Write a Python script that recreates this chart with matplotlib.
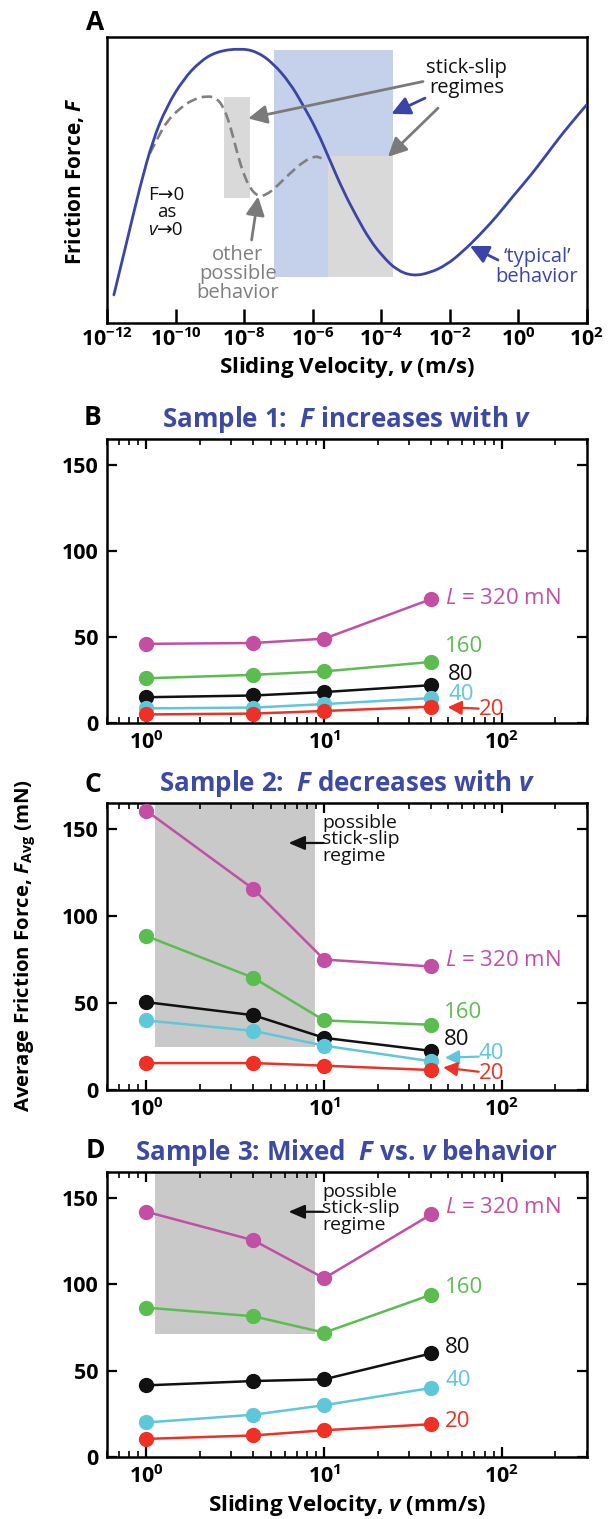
import numpy as np
import matplotlib
matplotlib.use("Agg")
import matplotlib.pyplot as plt
from matplotlib.path import Path
from matplotlib.patches import PathPatch
from matplotlib.ticker import LogLocator, NullFormatter, NullLocator

plt.rcParams['font.family'] = ['Open Sans', 'DejaVu Sans']
plt.rcParams['mathtext.fontset'] = 'custom'
plt.rcParams['mathtext.rm'] = 'Open Sans:bold'
plt.rcParams['mathtext.it'] = 'Open Sans:italic'
plt.rcParams['mathtext.bf'] = 'Open Sans:bold:italic'
plt.rcParams['axes.linewidth'] = 1.8

# ---------------- Panel A: schematic friction curve ----------------
# x values are log10 of the sliding velocity (m/s)
a_logv_typical = [-11.80, -11.43, -11.04, -10.66, -10.26, -9.78, -9.29, -8.80,
                  -8.12, -7.63, -7.16, -6.66, -6.28, -5.88, -5.50, -5.12, -4.72,
                  -4.33, -3.95, -3.55, -3.08, -2.58, -2.09, -1.62, -1.12, -0.63,
                  -0.16, 0.34, 0.82, 1.30, 2.00]
a_force_typical = [0.098, 0.280, 0.476, 0.640, 0.756, 0.850, 0.914, 0.949,
                   0.960, 0.949, 0.909, 0.839, 0.762, 0.675, 0.570, 0.465, 0.372,
                   0.290, 0.232, 0.185, 0.164, 0.175, 0.203, 0.249, 0.308, 0.372,
                   0.442, 0.512, 0.587, 0.664, 0.763]
a_logv_other = [-10.75, -10.50, -10.26, -9.87, -9.48, -9.09, -8.80, -8.61, -8.46,
                -8.32, -8.17, -8.02, -7.83, -7.59, -7.34, -7.05, -6.66, -6.27,
                -5.93, -5.74]
a_force_other = [0.593, 0.651, 0.704, 0.751, 0.782, 0.794, 0.786, 0.756, 0.710,
                 0.651, 0.581, 0.523, 0.471, 0.442, 0.448, 0.477, 0.523, 0.564,
                 0.584, 0.576]
a_decades = [-12, -10, -8, -6, -4, -2, 0, 2]

# ---------------- Panels B-D: measured average friction ----------------
velocity = [1, 4, 10, 40]
load_labels = ['$L$ = 320 mN', '160', '80', '40', '20']
load_colors = ['#c24fa4', '#5bbd50', '#111111', '#5ec8da', '#ee3124']

s1_320 = [46, 46.5, 49, 72]
s1_160 = [26, 28, 30, 35.5]
s1_80 = [15, 16, 18, 22]
s1_40 = [8.5, 9, 11, 14.5]
s1_20 = [5, 5.5, 7, 9.5]

s2_320 = [160.5, 115.5, 75, 71]
s2_160 = [88.5, 64.5, 40, 37.5]
s2_80 = [50.5, 43, 30, 22.5]
s2_40 = [40, 34, 25.5, 16.5]
s2_20 = [15.5, 15.5, 14, 11.5]

s3_320 = [142, 125.5, 103.5, 140.5]
s3_160 = [86.5, 81.5, 72, 94]
s3_80 = [41.5, 44, 45, 60]
s3_40 = [20, 24.5, 30, 40]
s3_20 = [10.5, 12.5, 15.5, 19]

title_blue = '#3c4aa3'
curve_blue = '#3b45a8'
grey_txt = '#7f7f7f'

fig = plt.figure(figsize=(6.08, 15.19), dpi=100)
axA = fig.add_axes([0.176, 0.7874, 0.789, 0.1883])
axB = fig.add_axes([0.176, 0.524, 0.789, 0.187])
axC = fig.add_axes([0.176, 0.2824, 0.789, 0.189])
axD = fig.add_axes([0.176, 0.0408, 0.789, 0.1876])


def smooth_curve(xs, ys):
    """Quadratic Bezier path passing through the midpoints of the given points."""
    pts = np.column_stack([xs, ys])
    verts = [pts[0]]
    codes = [Path.MOVETO]
    for i in range(1, len(pts) - 1):
        mid = (pts[i] + pts[i + 1]) / 2
        verts += [pts[i], mid]
        codes += [Path.CURVE3, Path.CURVE3]
    verts.append(pts[-1])
    codes.append(Path.LINETO)
    return Path(verts, codes)


# ---- panel A ----
ax = axA
ax.set_xlim(-12, 2)
ax.set_ylim(0, 1)
ax.fill_between([-7.13, -3.65], 0.162, 0.955, color='#c5d0ea', lw=0, zorder=0)
ax.fill_between([-5.56, -3.65], 0.162, 0.584, color='#d9d9d9', lw=0, zorder=0.5)
ax.fill_between([-8.59, -7.83], 0.436, 0.791, color='#d9d9d9', lw=0, zorder=0.5)
ax.add_patch(PathPatch(smooth_curve(a_logv_typical, a_force_typical), fill=False,
                       edgecolor=curve_blue, lw=2.0, zorder=3, capstyle='round'))
ax.add_patch(PathPatch(smooth_curve(a_logv_other, a_force_other), fill=False,
                       edgecolor='#808080', lw=1.9, ls=(0, (4, 2)), zorder=2))

arrow_kw = dict(arrowstyle='-|>,head_length=0.7,head_width=0.35', lw=2.0,
                shrinkA=0, shrinkB=0, mutation_scale=16)
ax.annotate('', xy=(-7.88, 0.715), xytext=(-2.78, 0.844),
            arrowprops=dict(color='#7a7a7a', **arrow_kw))
ax.annotate('', xy=(-3.70, 0.731), xytext=(-2.72, 0.786),
            arrowprops=dict(color=curve_blue, **arrow_kw))
ax.annotate('', xy=(-3.80, 0.581), xytext=(-2.34, 0.751),
            arrowprops=dict(color='#7a7a7a', **arrow_kw))
ax.annotate('', xy=(-7.59, 0.442), xytext=(-7.78, 0.290),
            arrowprops=dict(color='#7a7a7a', **arrow_kw))
ax.annotate('', xy=(-1.41, 0.269), xytext=(-0.59, 0.220),
            arrowprops=dict(color=curve_blue, **arrow_kw))

ax.text(-1.51, 0.858, 'stick-slip\nregimes', ha='center', va='center',
        fontsize=14.5, color='#111111', linespacing=1.0)
ax.text(0.55, 0.196, '\u2018typical\u2019\nbehavior', ha='center', va='center',
        fontsize=14.5, color=curve_blue, linespacing=0.95)
ax.text(-10.26, 0.448, 'F\u21920', ha='center', va='center', fontsize=13.5,
        color='#111111')
ax.text(-10.26, 0.388, 'as', ha='center', va='center', fontsize=13.5,
        color='#111111')
ax.text(-10.55, 0.325, '\u21920', ha='left', va='center', fontsize=13.5,
        color='#111111')
ax.text(-10.55, 0.325, 'v', ha='right', va='center', fontsize=13.5,
        color='#111111', style='italic')
ax.text(-8.18, 0.171, 'other\npossible\nbehavior', ha='center', va='center',
        fontsize=14.5, color=grey_txt, linespacing=0.95)

ax.set_xticks(a_decades)
ax.set_xticklabels(['$10^{%d}$' % d for d in a_decades], fontsize=15.5)
ax.xaxis.set_minor_locator(NullLocator())
ax.set_yticks([])
ax.tick_params(axis='x', direction='in', length=10, width=1.8, pad=4)
fig.text(74 / 608, 1 - 181 / 1519, 'Friction Force, $\\mathbf{F}$', rotation=90,
         ha='center', va='center', fontsize=15, fontweight='bold')
fig.text(0.571, 1 - 368 / 1519, 'Sliding Velocity, $\\mathbf{v}$ (m/s)',
         ha='center', va='center', fontsize=16, fontweight='bold')

# ---- panels B-D ----
panels = [
    (axB, [s1_320, s1_160, s1_80, s1_40, s1_20],
     'Sample 1:  $\\mathbf{F}$ increases with $\\mathbf{v}$', None),
    (axC, [s2_320, s2_160, s2_80, s2_40, s2_20],
     'Sample 2:  $\\mathbf{F}$ decreases with $\\mathbf{v}$', 24.5),
    (axD, [s3_320, s3_160, s3_80, s3_40, s3_20],
     'Sample 3: Mixed  $\\mathbf{F}$ vs. $\\mathbf{v}$ behavior', 71.5),
]

for ax, series, title, box_bottom in panels:
    ax.set_xscale('log')
    ax.set_xlim(0.6, 300)
    ax.set_ylim(0, 165)
    if box_bottom is not None:
        ax.fill_between([1.12, 8.9], box_bottom, 165, color='#c9c9c9', lw=0, zorder=0)
        ax.text(9.75, 144, 'possible\nstick-slip\nregime', ha='left', va='center',
                fontsize=14, color='#111111', linespacing=0.9, zorder=4)
        ax.annotate('', xy=(6.3, 142), xytext=(9.9, 142),
                    arrowprops=dict(arrowstyle='-|>,head_length=0.7,head_width=0.3',
                                    color='#111111', lw=1.6, shrinkA=0, shrinkB=0,
                                    mutation_scale=14), zorder=4)
    for vals, col in zip(series, load_colors):
        ax.plot(velocity, vals, '-o', color=col, lw=1.8, ms=10, zorder=3,
                clip_on=False)
    ax.text(0.5, 1.068, title, transform=ax.transAxes, ha='center', va='center',
            fontsize=18.7, fontweight='bold', color=title_blue)
    ax.set_yticks([0, 50, 100, 150])
    ax.set_xticks([1, 10, 100])
    ax.set_xticklabels(['$10^{0}$', '$10^{1}$', '$10^{2}$'], fontsize=15.5)
    ax.xaxis.set_minor_locator(LogLocator(base=10, subs=np.arange(2, 10)))
    ax.xaxis.set_minor_formatter(NullFormatter())
    ax.tick_params(axis='both', which='major', direction='in', length=7, width=1.6,
                   top=True, right=True, labelsize=15.5)
    ax.tick_params(axis='x', which='minor', direction='in', length=4, width=1.2,
                   top=True)
    ax.tick_params(axis='x', which='major', pad=6)
    ax.tick_params(axis='y', which='major', pad=6)
    for lab in ax.get_yticklabels():
        lab.set_fontweight('bold')

label_kw = dict(fontsize=16, va='center')
small_arrow = dict(arrowstyle='-|>,head_length=0.6,head_width=0.3', lw=1.6,
                   shrinkA=0, shrinkB=0, mutation_scale=14)

# series labels, panel B
axB.text(47.8, 72.4, load_labels[0], color=load_colors[0], **label_kw)
axB.text(47.8, 44.3, load_labels[1], color=load_colors[1], **label_kw)
axB.text(49.8, 28.0, load_labels[2], color=load_colors[2], **label_kw)
axB.text(49.8, 16.8, load_labels[3], color=load_colors[3], **label_kw)
axB.text(74, 7.8, load_labels[4], color=load_colors[4], **label_kw)
axB.annotate('', xy=(49.5, 9.2), xytext=(74, 8.4),
             arrowprops=dict(color=load_colors[4], **small_arrow))

# series labels, panel C
axC.text(47.8, 74.7, load_labels[0], color=load_colors[0], **label_kw)
axC.text(47.0, 44.4, load_labels[1], color=load_colors[1], **label_kw)
axC.text(47.0, 29.2, load_labels[2], color=load_colors[2], **label_kw)
axC.text(74, 21.2, load_labels[3], color=load_colors[3], **label_kw)
axC.text(74, 9.4, load_labels[4], color=load_colors[4], **label_kw)
axC.annotate('', xy=(47.8, 18.6), xytext=(74, 19.2),
             arrowprops=dict(color=load_colors[3], **small_arrow))
axC.annotate('', xy=(46.7, 13.0), xytext=(74, 10.5),
             arrowprops=dict(color=load_colors[4], **small_arrow))

# series labels, panel D
axD.text(47.9, 144.2, load_labels[0], color=load_colors[0], **label_kw)
axD.text(47.9, 98, load_labels[1], color=load_colors[1], **label_kw)
axD.text(47.9, 63.5, load_labels[2], color=load_colors[2], **label_kw)
axD.text(47.9, 44.2, load_labels[3], color=load_colors[3], **label_kw)
axD.text(47.9, 20.8, load_labels[4], color=load_colors[4], **label_kw)

fig.text(25 / 608, 1 - 946 / 1519,
         'Average Friction Force, $\\mathbf{F}_{\\mathrm{Avg}}$ (mN)',
         rotation=90, ha='center', va='center', fontsize=14.7, fontweight='bold')
fig.text(0.571, 1 - 1505 / 1519, 'Sliding Velocity, $\\mathbf{v}$ (mm/s)',
         ha='center', va='center', fontsize=16, fontweight='bold')

# panel letters
for letter, (px, py) in zip('ABCD', [(95, 22), (93, 418), (93, 785), (95, 1150)]):
    fig.text(px / 608, 1 - py / 1519, letter, ha='center', va='center',
             fontsize=19, fontweight='bold')

fig.savefig('out.png', dpi=100)
